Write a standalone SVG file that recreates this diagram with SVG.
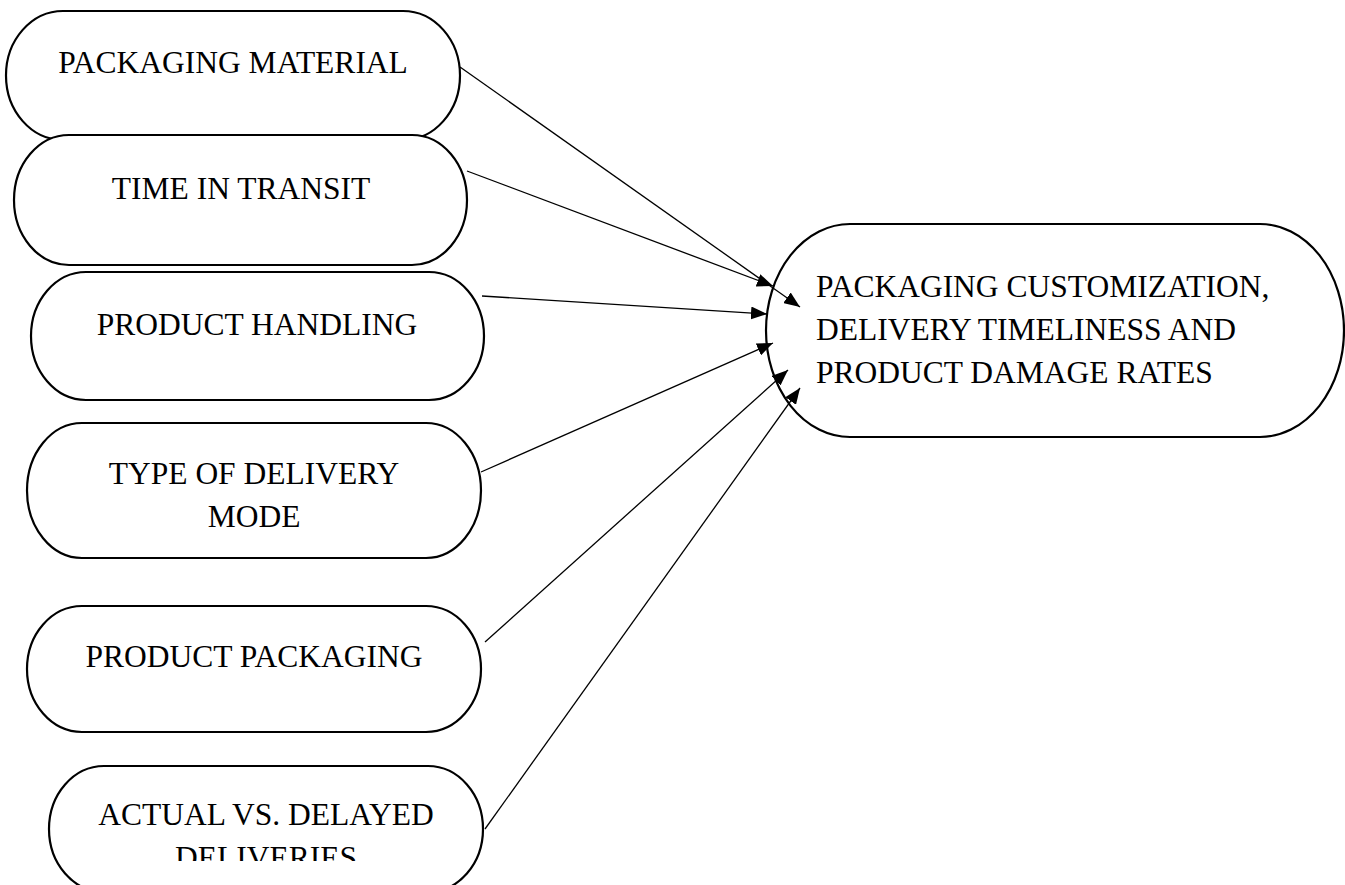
<svg xmlns="http://www.w3.org/2000/svg" width="1345" height="885" viewBox="0 0 1345 885">
<style>
.node{fill:#fff;stroke:#000;stroke-width:2.2}
.lbl{font-family:"Liberation Serif","Times New Roman",serif;font-size:31.5px;fill:#000}
.c{text-anchor:middle}
.conn{stroke:#000;stroke-width:1.3;fill:none;marker-end:url(#ah)}
</style>
<defs>
<marker id="ah" viewBox="0 0 16 13" refX="16" refY="6.5" markerWidth="16" markerHeight="13" markerUnits="userSpaceOnUse" orient="auto">
<path d="M0,0 L16,6.5 L0,13 z" fill="#000"/>
</marker>
<clipPath id="clip6"><rect x="40" y="760" width="460" height="101"/></clipPath>
</defs>
<rect width="1345" height="885" fill="#fff"/>
<g id="node-packaging-material">
<rect class="node" x="6" y="11" width="454" height="129" rx="57" ry="64.5"/>
<text class="lbl c" x="233" y="73">PACKAGING MATERIAL</text>
</g>
<g id="node-time-in-transit">
<rect class="node" x="14" y="135" width="453" height="130" rx="55" ry="65"/>
<text class="lbl c" x="241" y="199">TIME IN TRANSIT</text>
</g>
<g id="node-product-handling">
<rect class="node" x="31" y="272" width="453" height="128" rx="55" ry="64"/>
<text class="lbl c" x="257" y="335">PRODUCT HANDLING</text>
</g>
<g id="node-type-of-delivery-mode">
<rect class="node" x="27" y="423" width="454" height="135" rx="55" ry="67.5"/>
<text class="lbl c" x="254" y="484">TYPE OF DELIVERY</text>
<text class="lbl c" x="254" y="527">MODE</text>
</g>
<g id="node-product-packaging">
<rect class="node" x="27" y="606" width="454" height="126" rx="55" ry="63"/>
<text class="lbl c" x="254" y="667">PRODUCT PACKAGING</text>
</g>
<g id="node-actual-vs-delayed">
<rect class="node" x="49" y="766" width="434" height="126" rx="55" ry="63"/>
<g clip-path="url(#clip6)">
<text class="lbl c" x="266" y="825">ACTUAL VS. DELAYED</text>
<text class="lbl c" x="266" y="868">DELIVERIES</text>
</g>
</g>
<g id="node-outcome">
<rect class="node" x="766" y="224" width="578" height="213" rx="84" ry="106.5"/>
<text class="lbl" x="816" y="297">PACKAGING CUSTOMIZATION,</text>
<text class="lbl" x="816" y="340">DELIVERY TIMELINESS AND</text>
<text class="lbl" x="816" y="383">PRODUCT DAMAGE RATES</text>
</g>
<g id="connectors">
<line class="conn" x1="460" y1="67" x2="800" y2="307"/>
<line class="conn" x1="467" y1="171" x2="773" y2="286"/>
<line class="conn" x1="482" y1="296" x2="767" y2="314"/>
<line class="conn" x1="481" y1="472" x2="773" y2="343"/>
<line class="conn" x1="485" y1="642" x2="788" y2="370"/>
<line class="conn" x1="485" y1="829" x2="800" y2="388"/>
</g>
</svg>
